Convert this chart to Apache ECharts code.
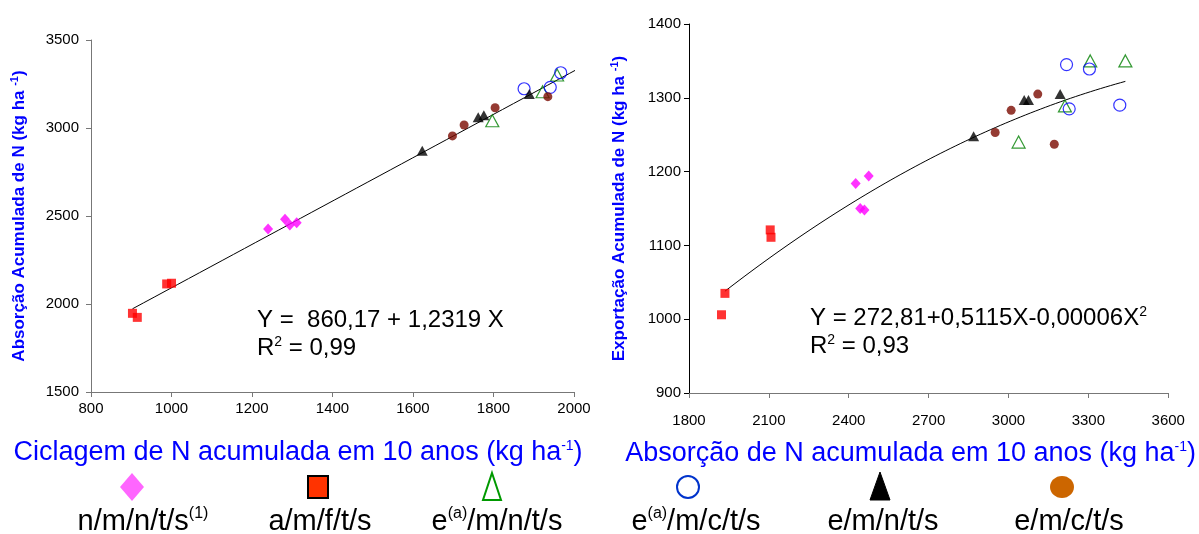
<!DOCTYPE html>
<html><head><meta charset="utf-8">
<script src="https://cdn.jsdelivr.net/npm/echarts@6/dist/echarts.min.js"></script>
<style>html,body{margin:0;padding:0;background:#fff}#c{width:1199px;height:534px}</style>
</head><body><div id="c"></div>
<script>
// ---------- DATA ----------
const seriesNames = ['n/m/n/t/s', 'a/m/f/t/s', 'e(a)/m/n/t/s', 'e(a)/m/c/t/s', 'e/m/n/t/s', 'e/m/c/t/s'];
const legendLabels = ['n/m/n/t/s{sup|(1)}', 'a/m/f/t/s', 'e{sup|(a)}/m/n/t/s', 'e{sup|(a)}/m/c/t/s', 'e/m/n/t/s', 'e/m/c/t/s'];

// Left chart: x = Ciclagem de N, y = Absorção acumulada de N
const leftNMNTS = [[1240, 2426], [1282, 2481], [1294, 2449], [1311, 2462]];
const leftAMFTS = [[903, 1947], [915, 1924], [988, 2114], [1000, 2118]];
const leftEaMNTS = [[1797, 3041], [1922, 3206], [1958, 3301]];
const leftEaMCTS = [[1876, 3223], [1941, 3231], [1967, 3314]];
const leftEMNTS = [[1623, 2871], [1762, 3061], [1776, 3072], [1889, 3193]];
const leftEMCTS = [[1698, 2955], [1727, 3017], [1804, 3115], [1935, 3178]];

// Right chart: x = Absorção de N, y = Exportação acumulada de N
const rightNMNTS = [[2426, 1184], [2475, 1194], [2443, 1150], [2459, 1148]];
const rightAMFTS = [[1922, 1006], [1935, 1035], [2105, 1121], [2108, 1111]];
const rightEaMNTS = [[3038, 1240], [3212, 1289], [3307, 1350], [3439, 1350]];
const rightEaMCTS = [[3218, 1345], [3228, 1285], [3304, 1339], [3418, 1290]];
const rightEMNTS = [[2869, 1248], [3059, 1297], [3075, 1297], [3194, 1305]];
const rightEMCTS = [[2950, 1253], [3010, 1283], [3110, 1305], [3172, 1237]];

// Fitted equations printed on the chart (coefficients) and their drawn x ranges
const leftFit = [860.17, 1.2319];          // Y = a + bX
const leftFitRange = [903, 2017];
const rightFit = [272.81, 0.5115, -0.00006]; // Y = a + bX + cX^2
const rightFitRange = [1935, 3439];

// Axis ticks
const leftXTicks = [800, 1000, 1200, 1400, 1600, 1800, 2000];
const leftYTicks = [1500, 2000, 2500, 3000, 3500];
const rightXTicks = [1800, 2100, 2400, 2700, 3000, 3300, 3600];
const rightYTicks = [900, 1000, 1100, 1200, 1300, 1400];

// ---------- CHART ----------
const FONT = '"Liberation Sans", Arial, sans-serif';
const leftData = [leftNMNTS, leftAMFTS, leftEaMNTS, leftEaMCTS, leftEMNTS, leftEMCTS];
const rightData = [rightNMNTS, rightAMFTS, rightEaMNTS, rightEaMCTS, rightEMNTS, rightEMCTS];

const markerStyles = [
  { symbol: 'diamond', symbolSize: [10, 11], itemStyle: { color: '#FF00FF' } },
  { symbol: 'rect', symbolSize: 9, itemStyle: { color: '#FF0000' } },
  { symbol: 'triangle', symbolSize: [13, 12], itemStyle: { color: 'rgba(255,255,255,0)', borderColor: '#008000', borderWidth: 1.2 } },
  { symbol: 'circle', symbolSize: 12, itemStyle: { color: 'rgba(255,255,255,0)', borderColor: '#0000FF', borderWidth: 1.2 } },
  { symbol: 'triangle', symbolSize: [11, 10], itemStyle: { color: '#000000' } },
  { symbol: 'circle', symbolSize: 9, itemStyle: { color: '#7B0A00' } }
];

function fitPoints(coefs, range, n) {
  const pts = [];
  for (let i = 0; i <= n; i++) {
    const x = range[0] + (range[1] - range[0]) * i / n;
    let y = 0;
    coefs.forEach((c, k) => { y += c * Math.pow(x, k); });
    pts.push([x, y]);
  }
  return pts;
}

function axisCommon(ticks, color) {
  return {
    min: ticks[0], max: ticks[ticks.length - 1], interval: ticks[1] - ticks[0],
    axisLine: { show: true, onZero: false, lineStyle: { color: color, width: 1 } },
    axisTick: { show: true, inside: false, length: 5, lineStyle: { color: color } },
    splitLine: { show: false },
    axisLabel: { color: '#000', fontFamily: FONT, fontSize: 15, formatter: v => String(v) }
  };
}

const supRich = { sup: { fontSize: 14, verticalAlign: 'top', padding: [0, 0, 14, 0], fontFamily: FONT, color: '#0000FF' } };
const supRichY = { sup: { fontSize: 11, fontWeight: 'bold', padding: [0, 0, 9, 0], fontFamily: FONT, color: '#0000FF' } };

const series = [];
series.push({
  type: 'line', xAxisIndex: 0, yAxisIndex: 0, data: fitPoints(leftFit, leftFitRange, 40),
  showSymbol: false, clip: false, silent: true, lineStyle: { color: '#000', width: 1 }, z: 1
});
series.push({
  type: 'line', xAxisIndex: 1, yAxisIndex: 1, data: fitPoints(rightFit, rightFitRange, 80),
  showSymbol: false, smooth: false, clip: false, silent: true, lineStyle: { color: '#000', width: 1 }, z: 1
});
seriesNames.forEach((name, i) => {
  [leftData, rightData].forEach((d, g) => {
    series.push(Object.assign({
      type: 'scatter', name: name, xAxisIndex: g, yAxisIndex: g, data: d[i], z: 3 + i
    }, JSON.parse(JSON.stringify(markerStyles[i]))));
  });
});

// Legend (drawn as graphic since icons sit above labels)
const legendSymX = [132, 318, 492, 688, 880, 1062];
const legendTxtX = [143, 320, 497, 696, 883, 1069];
const symY = 487;
function legendIcon(i) {
  const cx = legendSymX[i];
  switch (i) {
    case 0: return { type: 'polygon', shape: { points: [[cx, symY - 14], [cx + 12, symY], [cx, symY + 14], [cx - 12, symY]] }, style: { fill: '#FF66FF' } };
    case 1: return { type: 'rect', shape: { x: cx - 10, y: symY - 11, width: 20, height: 22 }, style: { fill: '#FF3300', stroke: '#000', lineWidth: 2 } };
    case 2: return { type: 'polygon', shape: { points: [[cx, symY - 14], [cx + 9, symY + 13], [cx - 9, symY + 13]] }, style: { fill: 'none', stroke: '#009900', lineWidth: 2 } };
    case 3: return { type: 'ellipse', shape: { cx: cx, cy: symY, rx: 11, ry: 11 }, style: { fill: 'none', stroke: '#0033CC', lineWidth: 2 } };
    case 4: return { type: 'polygon', shape: { points: [[cx, symY - 15], [cx + 10, symY + 13], [cx - 10, symY + 13]] }, style: { fill: '#000', stroke: '#000', lineWidth: 1 } };
    default: return { type: 'ellipse', shape: { cx: cx, cy: symY, rx: 12, ry: 11 }, style: { fill: '#CC6600' } };
  }
}
const graphics = [];
legendLabels.forEach((lab, i) => {
  graphics.push(legendIcon(i));
  graphics.push({
    type: 'text', x: legendTxtX[i], y: 522,
    style: {
      text: lab, fill: '#000', font: '29px ' + FONT, align: 'center', verticalAlign: 'middle',
      rich: { sup: { fontSize: 16, padding: [0, 0, 16, 0], fill: '#000', fontFamily: FONT } }
    }
  });
});
// Equation annotations
graphics.push({ type: 'text', x: 257, y: 320, style: { text: 'Y =  860,17 + 1,2319 X', fill: '#000', font: '24px ' + FONT, verticalAlign: 'middle' } });
graphics.push({ type: 'text', x: 257, y: 348, style: { text: 'R{s|2} = 0,99', fill: '#000', font: '24px ' + FONT, verticalAlign: 'middle', rich: { s: { fontSize: 14, padding: [0, 0, 12, 0], fill: '#000', fontFamily: FONT } } } });
graphics.push({ type: 'text', x: 810, y: 318, style: { text: 'Y = 272,81+0,5115X-0,00006X{s|2}', fill: '#000', font: '24px ' + FONT, verticalAlign: 'middle', rich: { s: { fontSize: 14, padding: [0, 0, 12, 0], fill: '#000', fontFamily: FONT } } } });
graphics.push({ type: 'text', x: 810, y: 346, style: { text: 'R{s|2} = 0,93', fill: '#000', font: '24px ' + FONT, verticalAlign: 'middle', rich: { s: { fontSize: 14, padding: [0, 0, 12, 0], fill: '#000', fontFamily: FONT } } } });

const option = {
  animation: false,
  backgroundColor: '#fff',
  grid: [
    { left: 91, top: 40, width: 483, height: 352, containLabel: false },
    { left: 689, top: 24, width: 486, height: 369, containLabel: false }
  ],
  xAxis: [
    Object.assign(axisCommon(leftXTicks, '#777'), {
      type: 'value', gridIndex: 0,
      name: 'Ciclagem de N acumulada em 10 anos (kg ha{sup|-1})', nameLocation: 'middle', nameGap: 47,
      nameTextStyle: { color: '#0000FF', fontSize: 27, fontFamily: FONT, padding: [0, 69, 0, 0], rich: supRich }
    }),
    Object.assign(axisCommon(rightXTicks, '#777'), {
      type: 'value', gridIndex: 1,
      name: 'Absorção de N acumulada em 10 anos (kg ha{sup|-1})', nameLocation: 'middle', nameGap: 47,
      nameTextStyle: { color: '#0000FF', fontSize: 27, fontFamily: FONT, padding: [0, 36, 0, 0], rich: supRich }
    })
  ],
  yAxis: [
    Object.assign(axisCommon(leftYTicks, '#777'), {
      type: 'value', gridIndex: 0,
      name: 'Absorção Acumulada de N (kg ha {sup|-1})', nameLocation: 'middle', nameGap: 62,
      nameTextStyle: { color: '#0000FF', fontSize: 17, fontWeight: 'bold', fontFamily: FONT, rich: supRichY }
    }),
    Object.assign(axisCommon(rightYTicks, '#000'), {
      type: 'value', gridIndex: 1,
      name: 'Exportação Acumulada de N (kg ha {sup|-1})', nameLocation: 'middle', nameGap: 60,
      nameTextStyle: { color: '#0000FF', fontSize: 17, fontWeight: 'bold', fontFamily: FONT, rich: supRichY }
    })
  ],
  series: series,
  graphic: graphics
};
option.xAxis[0].axisLabel.margin = 9;
option.xAxis[1].axisLabel.margin = 20;
option.yAxis[0].axisLabel.margin = 12;
option.yAxis[1].axisLabel.margin = 8;

const chart = echarts.init(document.getElementById('c'));
chart.setOption(option);
</script>
</body></html>
